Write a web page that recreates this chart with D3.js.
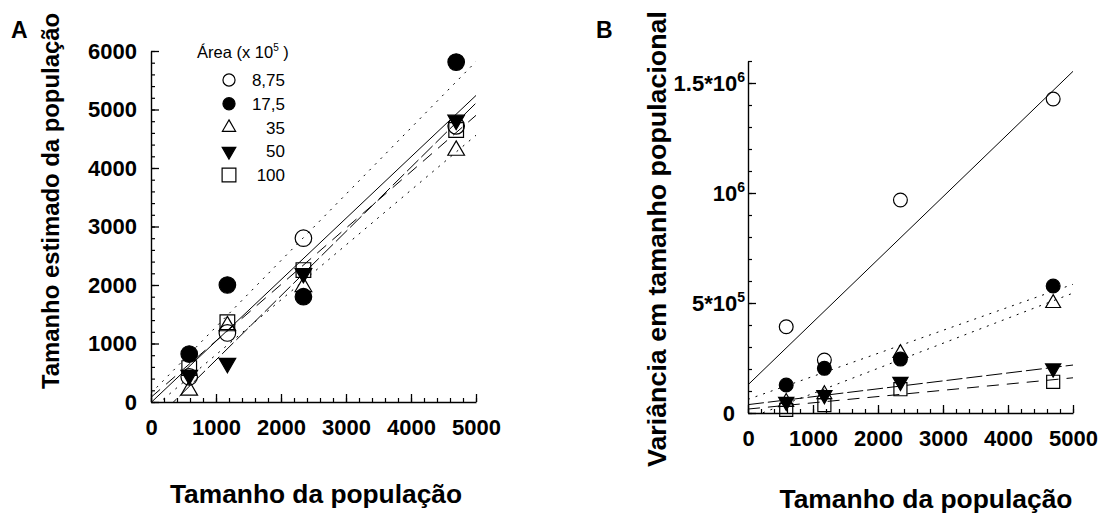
<!DOCTYPE html>
<html>
<head>
<meta charset="utf-8">
<script src="https://cdnjs.cloudflare.com/ajax/libs/d3/7.8.5/d3.min.js"></script>
<style>
  body { margin: 0; background: #fff; }
  text { font-family: "Liberation Sans", Arial, sans-serif; }
</style>
</head>
<body>
<svg width="1100" height="517"></svg>
<script>
// population sizes (x) for both panels
var popSize = [588, 1175, 2345, 4695];
var areaLabels = ["8,75", "17,5", "35", "50", "100"];

// panel A: estimated population size, one array per area
var estA_875 = [430, 1180, 2800, 4720];
var estA_175 = [820, 2000, 1800, 5810];
var estA_35  = [200, 1300, 1970, 4300];
var estA_50  = [460, 665, 2200, 4820];
var estA_100 = [580, 1365, 2255, 4650];

// panel A: fitted lines, value at x=0 and at x=5000
var fitA_start = [-10, 150, -130, -380, 80];
var fitA_end   = [5240, 5820, 4560, 5110, 4900];

// panel B: variance of population size
var varB_875 = [392000, 241000, 968000, 1427000];
var varB_175 = [127000, 203000, 245000, 577000];
var varB_35  = [50000, 85000, 272000, 499000];
var varB_50  = [51000, 82000, 142000, 203000];
var varB_100 = [14000, 36000, 108000, 142000];

var fitB_start = [128000, 62000, -25000, 38000, 18000];
var fitB_end   = [1553000, 585000, 545000, 218000, 160000];

// tick labels
var xTicks = [0, 1000, 2000, 3000, 4000, 5000];
var yTicksA = [0, 1000, 2000, 3000, 4000, 5000, 6000];
var yTicksB = [0, 500000, 1000000, 1500000];
var yTickBase = ["0", "5*10", "10", "1.5*10"];
var yTickExp  = ["", "5", "6", "6"];

// marker / line styles per series
var shapes = ["circle", "circle", "triangle", "triangleDown", "square"];
var filled = [false, true, false, true, false];
var dashes = [null, "2,6", "2,6", "16,4", "12,8"];

var svg = d3.select("svg");

function symbolPath(shape, size) {
    var t = shape === "circle" ? d3.symbolCircle :
            shape === "square" ? d3.symbolSquare : d3.symbolTriangle;
    return d3.symbol().type(t).size(size)();
}

function drawMarker(g, shape, isFilled, px, py, sizes) {
    g.append("path")
        .attr("d", symbolPath(shape, sizes[shape]))
        .attr("transform", "translate(" + px + "," + py + ")" + (shape === "triangleDown" ? " rotate(180)" : ""))
        .attr("fill", isFilled ? "#000" : "none")
        .attr("stroke", "#000")
        .attr("stroke-width", 1.2);
}

function drawPanel(p) {
    var x = d3.scaleLinear().domain([0, 5000]).range(p.xRange);
    var y = d3.scaleLinear().domain(p.yDomain).range(p.yRange);
    var x0 = p.xRange[0], y0 = p.yRange[0];

    // minor ticks
    svg.append("g")
        .attr("transform", "translate(0," + y0 + ")")
        .call(d3.axisBottom(x).tickValues(d3.range(0, 5001, 200)).tickSize(-4).tickSizeOuter(0).tickFormat(""))
        .call(function(g) { g.select(".domain").remove(); })
        .selectAll("line").attr("stroke-width", 1.2);
    svg.append("g")
        .attr("transform", "translate(" + x0 + ",0)")
        .call(d3.axisLeft(y).tickValues(p.minorY).tickSize(-4).tickSizeOuter(0).tickFormat(""))
        .call(function(g) { g.select(".domain").remove(); })
        .selectAll("line").attr("stroke-width", 1.2);

    // major ticks + labels
    var gx = svg.append("g")
        .attr("transform", "translate(0," + y0 + ")")
        .call(d3.axisBottom(x).tickValues(xTicks).tickSize(-8).tickSizeOuter(0).tickPadding(17).tickFormat(d3.format("d")));
    var gy = svg.append("g")
        .attr("transform", "translate(" + x0 + ",0)")
        .call(d3.axisLeft(y).tickValues(p.yTicks).tickSize(-8).tickSizeOuter(0).tickPadding(14).tickFormat(d3.format("d")));

    [gx, gy].forEach(function(g) {
        g.attr("font-family", null).attr("font-size", null);
        g.selectAll("text").attr("font-size", 22).attr("font-weight", "bold").attr("fill", "#000");
        g.selectAll("line").attr("stroke-width", 1.3);
        g.select(".domain").attr("stroke-width", 1.4);
    });
    if (p.superLabels) {
        gy.selectAll(".tick text").each(function(d, i) {
            var t = d3.select(this).text("");
            t.attr("x", yTickExp[i] ? -3 : -13);
            t.append("tspan").text(yTickBase[i]);
            if (yTickExp[i]) t.append("tspan").attr("dy", -9).attr("font-size", 14).text(yTickExp[i]);
        });
    }

    // clipped fit lines
    var clipId = "clip" + p.name;
    svg.append("clipPath").attr("id", clipId).append("rect")
        .attr("x", x0).attr("y", p.yRange[1])
        .attr("width", p.xRange[1] - x0).attr("height", y0 - p.yRange[1]);
    var line = d3.line().x(function(d) { return x(d[0]); }).y(function(d) { return y(d[1]); });
    var gl = svg.append("g").attr("clip-path", "url(#" + clipId + ")");
    p.fitStart.forEach(function(v, i) {
        gl.append("path")
            .attr("d", line([[0, v], [5000, p.fitEnd[i]]]))
            .attr("fill", "none")
            .attr("stroke", "#000")
            .attr("stroke-width", 1)
            .attr("stroke-dasharray", dashes[i]);
    });

    // markers
    var gm = svg.append("g");
    p.series.forEach(function(vals, i) {
        vals.forEach(function(v, j) {
            drawMarker(gm, shapes[i], filled[i], x(popSize[j]), y(v), p.sizes);
        });
    });

    // axis titles
    svg.append("text")
        .attr("x", p.xTitle[0]).attr("y", p.xTitle[1])
        .attr("text-anchor", "middle")
        .attr("font-size", 26).attr("font-weight", "bold")
        .attr("textLength", p.xTitle[2]).attr("lengthAdjust", "spacingAndGlyphs")
        .text("Tamanho da população");
    svg.append("text")
        .attr("transform", "translate(" + p.yTitle[0] + "," + p.yTitle[1] + ") rotate(-90)")
        .attr("text-anchor", "middle")
        .attr("font-size", p.yTitle[3]).attr("font-weight", "bold")
        .attr("textLength", p.yTitle[2]).attr("lengthAdjust", "spacingAndGlyphs")
        .text(p.yTitleText);

    svg.append("text")
        .attr("x", p.label[0]).attr("y", p.label[1])
        .attr("font-size", 23).attr("font-weight", "bold")
        .text(p.name);
}

drawPanel({
    name: "A",
    xRange: [151, 476],
    yDomain: [0, 6000],
    yRange: [402, 51],
    yTicks: yTicksA,
    minorY: d3.range(0, 6001, 200),
    series: [estA_875, estA_175, estA_35, estA_50, estA_100],
    fitStart: fitA_start,
    fitEnd: fitA_end,
    sizes: { circle: 215, triangle: 120, triangleDown: 120, square: 215 },
    xTitle: [316, 503, 292],
    yTitle: [59, 201, 376, 24],
    yTitleText: "Tamanho estimado da população",
    label: [11, 38]
});

drawPanel({
    name: "B",
    xRange: [748, 1073],
    yDomain: [0, 1600000],
    yRange: [413, 61],
    yTicks: yTicksB,
    minorY: d3.range(0, 1600001, 100000),
    superLabels: true,
    series: [varB_875, varB_175, varB_35, varB_50, varB_100],
    fitStart: fitB_start,
    fitEnd: fitB_end,
    sizes: { circle: 150, triangle: 95, triangleDown: 100, square: 170 },
    xTitle: [926, 508, 293],
    yTitle: [666, 239, 456, 26],
    yTitleText: "Variância em tamanho populacional",
    label: [596, 38]
});

// legend (panel A)
var leg = svg.append("g");
var lt = leg.append("text").attr("x", 197).attr("y", 58).attr("font-size", 16.5);
lt.append("tspan").text("Área (x 10");
lt.append("tspan").attr("dy", -7).attr("font-size", 10).text("5");
lt.append("tspan").attr("dy", 7).text(" )");
var legY = d3.scaleLinear().domain([0, 4]).range([80, 175]);
var legSizes = { circle: 115, triangle: 75, triangleDown: 80, square: 190 };
areaLabels.forEach(function(lab, i) {
    drawMarker(leg, shapes[i], filled[i], 229, legY(i), legSizes);
    leg.append("text")
        .attr("x", 285).attr("y", legY(i) + 6)
        .attr("text-anchor", "end")
        .attr("font-size", 17)
        .text(lab);
});
</script>
</body>
</html>
